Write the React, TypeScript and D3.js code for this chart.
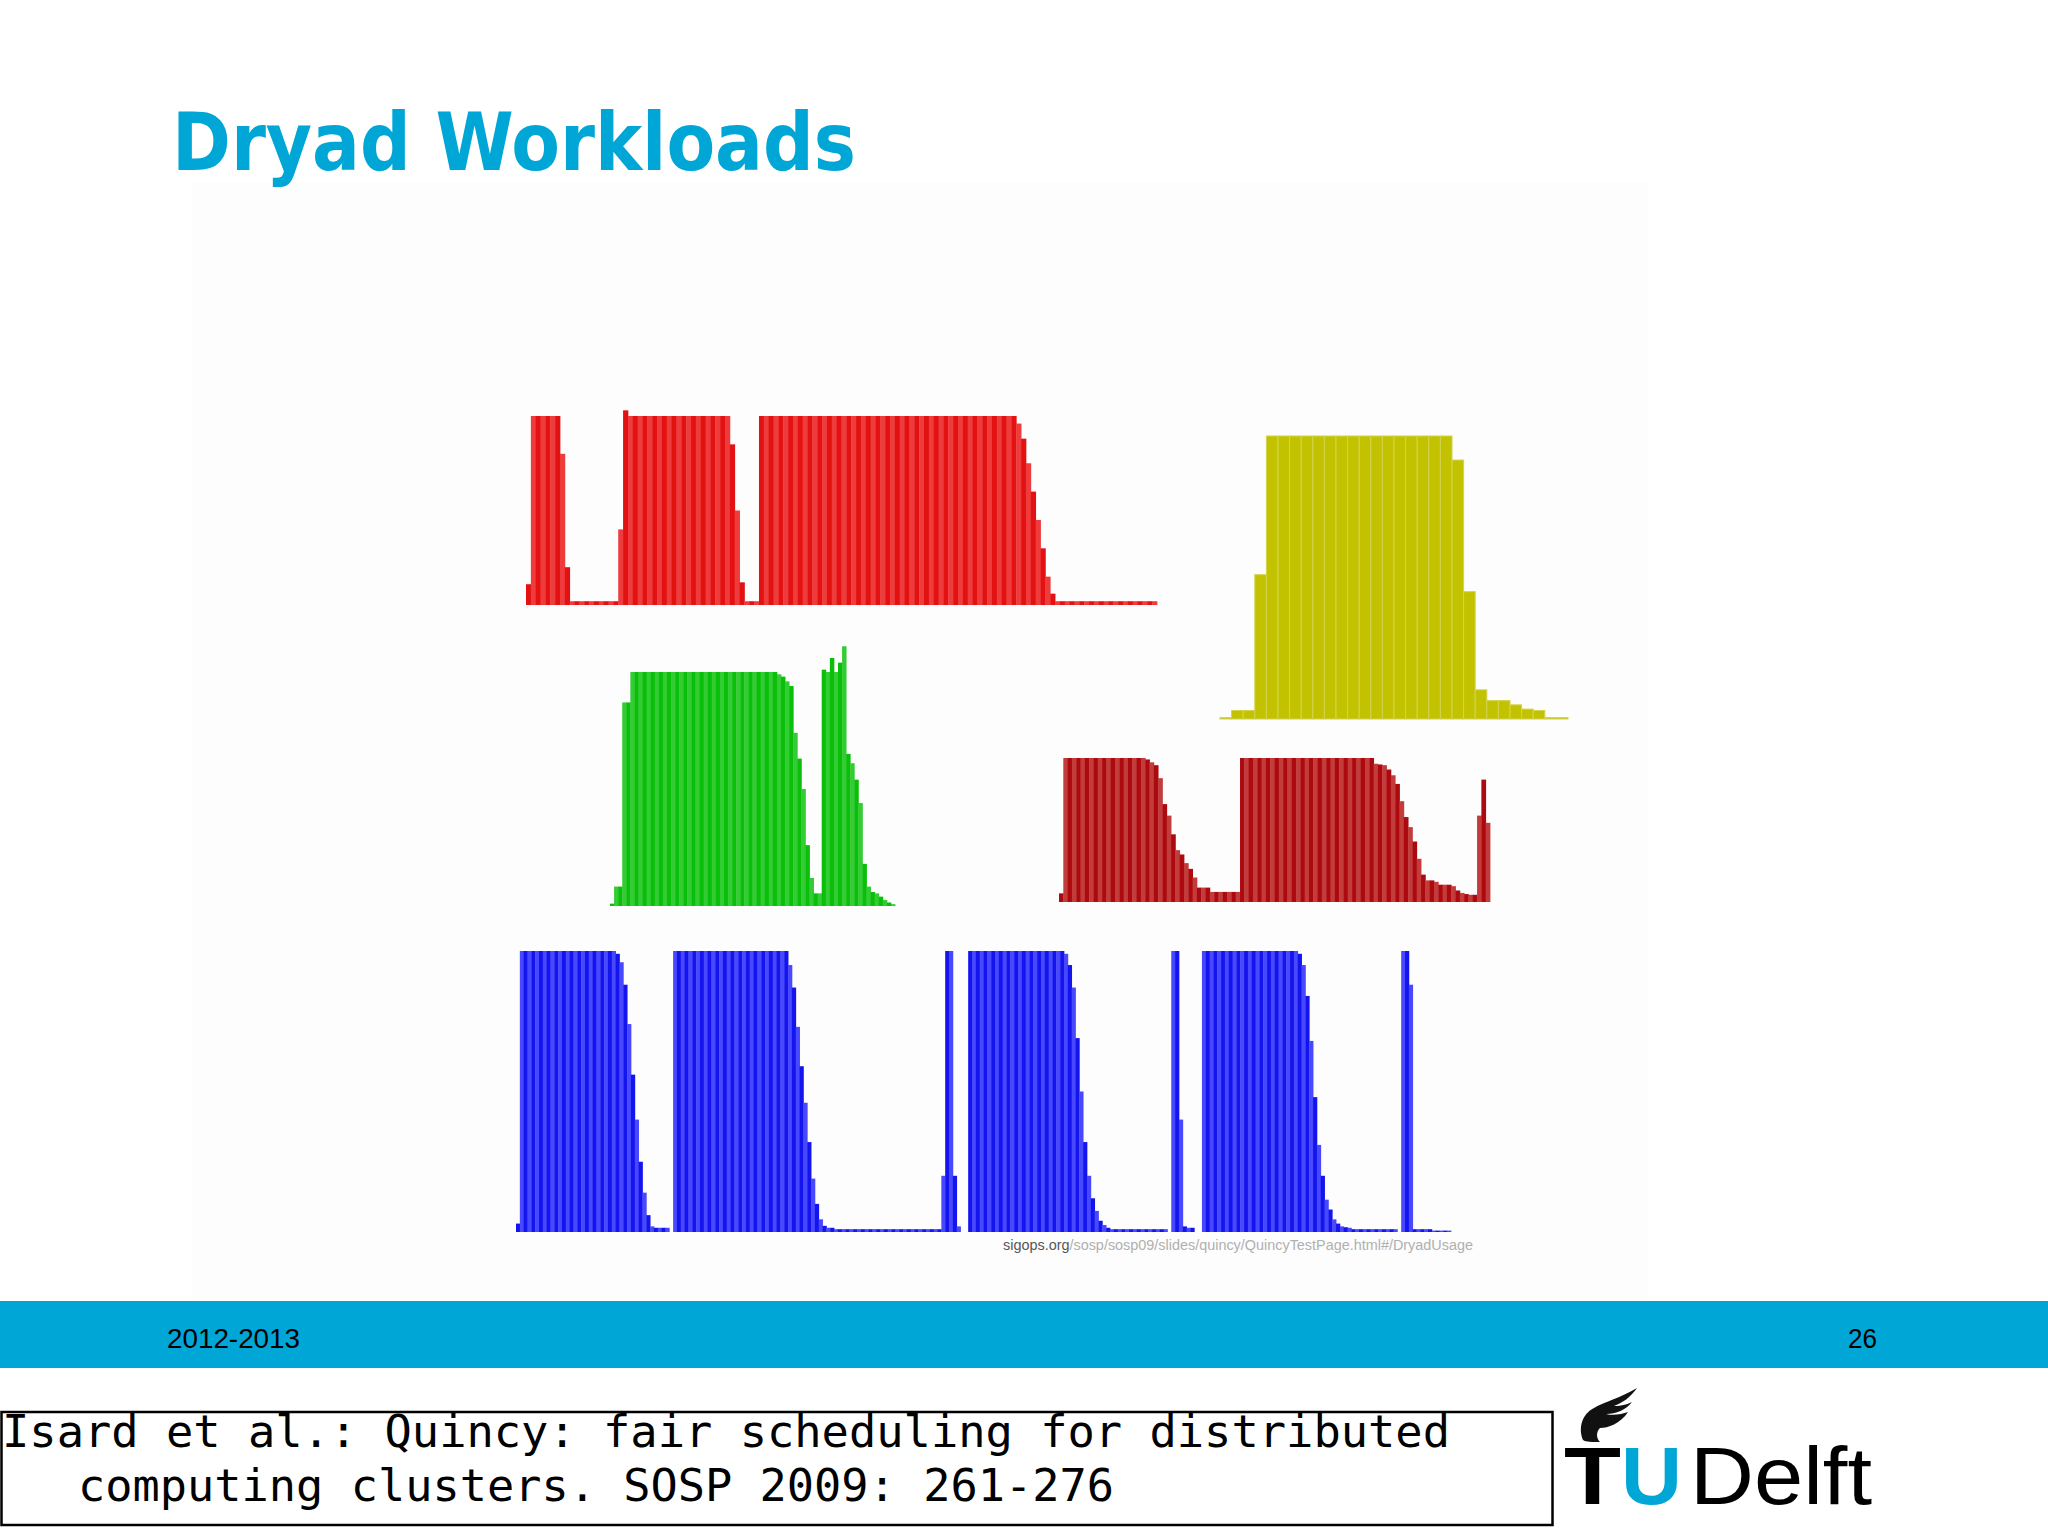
import React from "react";
import * as d3 from "d3";

// ---------- texts ----------
const titleText = "Dryad Workloads";
const footerLeft = "2012-2013";
const footerRight = "26";
const sourceHost = "sigops.org";
const sourcePath = "/sosp/sosp09/slides/quincy/QuincyTestPage.html#/DryadUsage";
const citationLine1 = "Isard et al.: Quincy: fair scheduling for distributed";
const citationLine2 = "computing clusters. SOSP 2009: 261-276";

// ---------- data (fraction of full cluster usage per time slot) ----------
const redValues = [
  0.11, 1, 1, 1, 1, 1, 1, 0.8, 0.2, 0.02,
  0.02, 0.02, 0.02, 0.02, 0.02, 0.02, 0.02, 0.02, 0.02, 0.4,
  1.03, 1, 1, 1, 1, 1, 1, 1, 1, 1,
  1, 1, 1, 1, 1, 1, 1, 1, 1, 1,
  1, 1, 0.85, 0.5, 0.12, 0.02, 0.02, 0.02, 1, 1,
  1, 1, 1, 1, 1, 1, 1, 1, 1, 1,
  1, 1, 1, 1, 1, 1, 1, 1, 1, 1,
  1, 1, 1, 1, 1, 1, 1, 1, 1, 1,
  1, 1, 1, 1, 1, 1, 1, 1, 1, 1,
  1, 1, 1, 1, 1, 1, 1, 1, 1, 1,
  1, 0.96, 0.88, 0.75, 0.6, 0.45, 0.3, 0.15, 0.06, 0.02,
  0.02, 0.02, 0.02, 0.02, 0.02, 0.02, 0.02, 0.02, 0.02, 0.02,
  0.02, 0.02, 0.02, 0.02, 0.02, 0.02, 0.02, 0.02, 0.02, 0.02,
];

const yellowValues = [
  0.005, 0.03, 0.03, 0.51, 1, 1, 1, 1, 1, 1,
  1, 1, 1, 1, 1, 1, 1, 1, 1, 1,
  0.915, 0.45, 0.103, 0.065, 0.065, 0.05, 0.035, 0.03, 0.005, 0.005,
];

const greenValues = [
  0.01, 0.083, 0.083, 0.87, 0.87, 1, 1, 1, 1, 1,
  1, 1, 1, 1, 1, 1, 1, 1, 1, 1,
  1, 1, 1, 1, 1, 1, 1, 1, 1, 1,
  1, 1, 1, 1, 1, 1, 1, 1, 1, 1,
  1, 0.99, 0.98, 0.96, 0.94, 0.74, 0.63, 0.5, 0.26, 0.12,
  0.054, 0.054, 1.01, 1.0, 1.06, 1.0, 1.04, 1.11, 0.65, 0.61,
  0.54, 0.44, 0.18, 0.083, 0.06, 0.054, 0.04, 0.026, 0.015, 0.008,
];

const darkRedValues = [
  0.06, 1, 1, 1, 1, 1, 1, 1, 1, 1,
  1, 1, 1, 1, 1, 1, 1, 1, 1, 1,
  0.99, 0.97, 0.95, 0.86, 0.68, 0.6, 0.47, 0.36, 0.33, 0.27,
  0.23, 0.17, 0.1, 0.1, 0.1, 0.07, 0.07, 0.07, 0.07, 0.07,
  0.07, 0.07, 1, 1, 1, 1, 1, 1, 1, 1,
  1, 1, 1, 1, 1, 1, 1, 1, 1, 1,
  1, 1, 1, 1, 1, 1, 1, 1, 1, 1,
  1, 1, 1, 0.96, 0.955, 0.95, 0.92, 0.88, 0.82, 0.7,
  0.59, 0.52, 0.42, 0.3, 0.19, 0.15, 0.15, 0.14, 0.12, 0.12,
  0.12, 0.11, 0.08, 0.063, 0.055, 0.05, 0.05, 0.6, 0.85, 0.55,
];

const blueValues = [
  0.03, 1, 1, 1, 1, 1, 1, 1, 1, 1,
  1, 1, 1, 1, 1, 1, 1, 1, 1, 1,
  1, 1, 1, 1, 1, 1, 0.99, 0.96, 0.88, 0.74,
  0.56, 0.4, 0.25, 0.14, 0.06, 0.02, 0.015, 0.015, 0.015, 0.015,
  0, 1, 1, 1, 1, 1, 1, 1, 1, 1,
  1, 1, 1, 1, 1, 1, 1, 1, 1, 1,
  1, 1, 1, 1, 1, 1, 1, 1, 1, 1,
  1, 0.95, 0.87, 0.73, 0.59, 0.46, 0.32, 0.19, 0.1, 0.045,
  0.022, 0.015, 0.015, 0.01, 0.01, 0.01, 0.01, 0.01, 0.01, 0.01,
  0.01, 0.01, 0.01, 0.01, 0.01, 0.01, 0.01, 0.01, 0.01, 0.01,
  0.01, 0.01, 0.01, 0.01, 0.01, 0.01, 0.01, 0.01, 0.01, 0.01,
  0.01, 0.2, 1, 1, 0.2, 0.02, 0, 0, 1, 1,
  1, 1, 1, 1, 1, 1, 1, 1, 1, 1,
  1, 1, 1, 1, 1, 1, 1, 1, 1, 1,
  1, 1, 1, 0.99, 0.95, 0.87, 0.69, 0.5, 0.32, 0.2,
  0.12, 0.075, 0.04, 0.025, 0.015, 0.01, 0.01, 0.01, 0.01, 0.01,
  0.01, 0.01, 0.01, 0.01, 0.01, 0.01, 0.01, 0.01, 0.01, 0.01,
  0, 1, 1, 0.4, 0.02, 0.015, 0.015, 0, 0, 1,
  1, 1, 1, 1, 1, 1, 1, 1, 1, 1,
  1, 1, 1, 1, 1, 1, 1, 1, 1, 1,
  1, 1, 1, 1, 0.99, 0.95, 0.84, 0.68, 0.48, 0.31,
  0.2, 0.115, 0.08, 0.045, 0.03, 0.02, 0.017, 0.015, 0.01, 0.01,
  0.01, 0.01, 0.01, 0.01, 0.01, 0.01, 0.01, 0.01, 0.01, 0.01,
  0, 1, 1, 0.88, 0.01, 0.01, 0.01, 0.01, 0.01, 0.005,
  0.005, 0.005, 0.005, 0.005,
];

// ---------- layout / style ----------
type Mode = "alt" | "outline";
interface ChartSpec {
  values: number[];
  x0: number;
  x1: number;
  base: number;
  top: number;
  dark: string;
  light: string;
  mode: Mode;
}

const CYAN = "#00a6d6";

const charts: ChartSpec[] = [
  { values: redValues, x0: 526, x1: 1157, base: 605, top: 416, dark: "#e31111", light: "#ee3c3c", mode: "alt" },
  { values: yellowValues, x0: 1220, x1: 1568, base: 719, top: 436, dark: "#c2c200", light: "#d3d34c", mode: "outline" },
  { values: greenValues, x0: 610, x1: 895, base: 906, top: 672, dark: "#0abf0a", light: "#34cc34", mode: "alt" },
  { values: darkRedValues, x0: 1059, x1: 1490, base: 902, top: 758, dark: "#ad0a10", light: "#c23c3c", mode: "alt" },
  { values: blueValues, x0: 516, x1: 1451, base: 1232, top: 951, dark: "#1414ee", light: "#4848ff", mode: "alt" },
];

function BarChart({ spec }: { spec: ChartSpec }) {
  const x = d3
    .scaleBand<number>()
    .domain(d3.range(spec.values.length))
    .range([spec.x0, spec.x1])
    .paddingInner(0)
    .paddingOuter(0);
  const y = d3.scaleLinear().domain([0, 1]).range([spec.base, spec.top]);
  const bw = x.bandwidth();
  return (
    <g>
      {spec.values.map((v, i) => {
        if (v <= 0) return null;
        const bx = x(i) as number;
        const by = y(v);
        const h = spec.base - by;
        if (spec.mode === "alt") {
          return (
            <rect key={i} x={bx} y={by} width={bw + 0.4} height={h} fill={i % 2 === 0 ? spec.dark : spec.light} />
          );
        }
        return (
          <rect key={i} x={bx} y={by} width={bw} height={h} fill={spec.dark} stroke={spec.light} strokeWidth={1} />
        );
      })}
    </g>
  );
}

export default function App() {
  return (
    <svg
      width={2048}
      height={1536}
      viewBox="0 0 2048 1536"
      style={{ position: "absolute", left: 0, top: 0, display: "block" }}
    >
      <rect x={0} y={0} width={2048} height={1536} fill="#ffffff" />
      <rect x={192} y={182} width={1456} height={1119} fill="#fdfdfd" />

      {/* title */}
      <text
        x={172}
        y={170}
        fontFamily="'DejaVu Sans', Verdana, sans-serif"
        fontWeight="bold"
        fontSize={80}
        fill={CYAN}
        textLength={684}
        lengthAdjust="spacingAndGlyphs"
      >
        {titleText}
      </text>

      {/* charts */}
      {charts.map((c, k) => (
        <BarChart key={k} spec={c} />
      ))}

      {/* source */}
      <text
        x={1003}
        y={1250}
        fontFamily="'Liberation Sans', Arial, sans-serif"
        fontSize={14}
        textLength={470}
        lengthAdjust="spacingAndGlyphs"
      >
        <tspan fill="#555555">{sourceHost}</tspan>
        <tspan fill="#b0b0b0">{sourcePath}</tspan>
      </text>

      {/* footer band */}
      <rect x={0} y={1301} width={2048} height={67} fill={CYAN} />
      <text
        x={167}
        y={1348}
        fontFamily="'Liberation Sans', Arial, sans-serif"
        fontSize={28}
        fill="#000"
        textLength={133}
        lengthAdjust="spacingAndGlyphs"
      >
        {footerLeft}
      </text>
      <text
        x={1848}
        y={1348}
        fontFamily="'Liberation Sans', Arial, sans-serif"
        fontSize={28}
        fill="#000"
        textLength={29}
        lengthAdjust="spacingAndGlyphs"
      >
        {footerRight}
      </text>

      {/* citation box */}
      <rect x={1.5} y={1412} width={1551} height={113} fill="#ffffff" stroke="#000" strokeWidth={2.5} />
      <text
        x={2}
        y={1447}
        fontFamily="'DejaVu Sans Mono', 'Liberation Mono', monospace"
        fontSize={45}
        fill="#000"
        textLength={1448}
        lengthAdjust="spacingAndGlyphs"
      >
        {citationLine1}
      </text>
      <text
        x={78}
        y={1501}
        fontFamily="'DejaVu Sans Mono', 'Liberation Mono', monospace"
        fontSize={45}
        fill="#000"
        textLength={1036}
        lengthAdjust="spacingAndGlyphs"
      >
        {citationLine2}
      </text>

      {/* TU Delft logo */}
      <path
        d="M1583,1440 C1578,1428 1582,1414 1594,1408 C1604,1402 1620,1398 1637,1388 C1630,1398 1622,1403 1614,1406 C1622,1406 1628,1404 1632,1402 C1626,1410 1616,1414 1606,1414 C1614,1416 1622,1414 1628,1412 C1620,1424 1608,1428 1600,1428 C1596,1432 1596,1438 1600,1442 C1592,1442 1586,1442 1583,1440 Z"
        fill="#111"
      />
      <text
        x={1564}
        y={1504}
        fontFamily="'Liberation Sans', Arial, sans-serif"
        fontWeight="bold"
        fontSize={82}
        fill="#000"
        textLength={57}
        lengthAdjust="spacingAndGlyphs"
      >
        T
      </text>
      <text
        x={1621}
        y={1504}
        fontFamily="'Liberation Sans', Arial, sans-serif"
        fontWeight="bold"
        fontSize={82}
        fill={CYAN}
        textLength={61}
        lengthAdjust="spacingAndGlyphs"
      >
        U
      </text>
      <text
        x={1690}
        y={1504}
        fontFamily="'Liberation Sans', Arial, sans-serif"
        fontSize={82}
        fill="#000"
        textLength={182}
        lengthAdjust="spacingAndGlyphs"
      >
        Delft
      </text>
    </svg>
  );
}
